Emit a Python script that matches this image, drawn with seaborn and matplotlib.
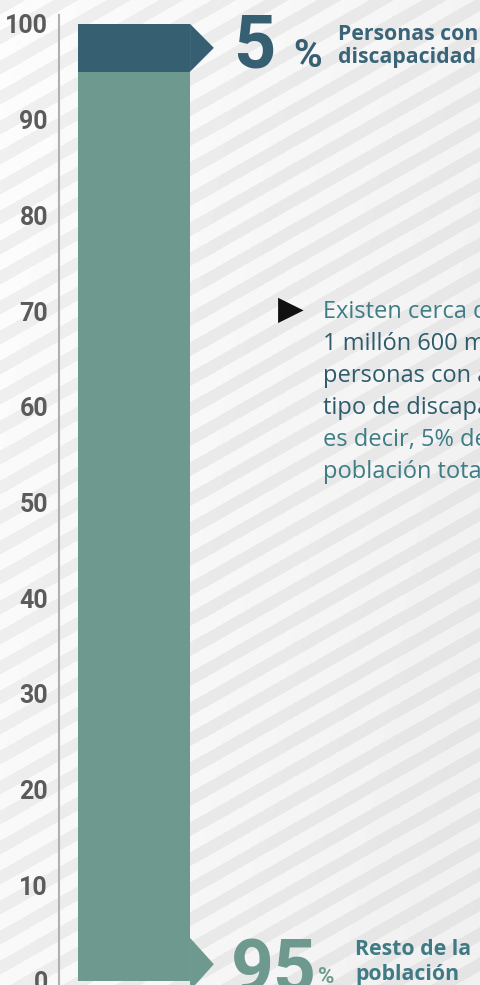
import numpy as np
import pandas as pd
import matplotlib.pyplot as plt
import seaborn as sns

# Data
categories = ["Población"]
rest_share = [95]          # resto de la población (%)
disability_share = [5]     # personas con discapacidad (%)
y_ticks = [0, 10, 20, 30, 40, 50, 60, 70, 80, 90, 100]
note_lines = ["Existen cerca de", "1 millón 600 mil", "personas con algún",
              "tipo de discapacidad,", "es decir, 5% de la", "población total"]

dark = "#375F72"
green = "#6D998E"
W, H = 481, 985

sns.set_style("white")
plt.rcParams['font.family'] = ['Open Sans', 'DejaVu Sans']

fig = plt.figure(figsize=(W / 100, H / 100), dpi=100)

# Striped background
bg = fig.add_axes([0, 0, 1, 1], zorder=0)
yy, xx = np.mgrid[0:H, 0:W]
band = ((yy + xx * 0.57) % 30) < 14
base = 0.99 - 0.035 * (xx / W) - 0.012 * (yy / H)
img = np.where(band, base - 0.05, base)
bg.imshow(img, cmap="gray", vmin=0, vmax=1, aspect="auto", interpolation="bilinear")
bg.axis("off")

# Main chart
ax = fig.add_axes([59 / W, 0, 1 - 59 / W, 1], zorder=1)
ax.set_facecolor("none")

df = pd.DataFrame({"cat": categories,
                   "total": np.add(rest_share, disability_share),
                   "rest": rest_share})
sns.barplot(data=df, x="cat", y="total", color=dark, saturation=1, width=0.8,
            linewidth=0, ax=ax)
sns.barplot(data=df, x="cat", y="rest", color=green, saturation=1, width=0.8,
            linewidth=0, ax=ax)

ax.set_xlim(-0.536, 2.478)
ax.set_ylim(-0.42, 102.5)

# arrow notches on the right side of the bar
bar = ax.patches[0]
right = bar.get_x() + bar.get_width()
tip = 0.17
top = df["total"][0]
ax.fill([right, right + tip, right], [top, top - disability_share[0] / 2, rest_share[0]],
        color=dark, lw=0)
ax.fill([right, right + tip, right], [4.5, 1.75, -1], color=green, lw=0, clip_on=False)

ax.set_xlabel("")
ax.set_ylabel("")
ax.set_xticks([])
ax.set_yticks(y_ticks)
ax.set_yticklabels([str(t) for t in y_ticks], fontsize=18, fontweight="bold",
                   color="#5B5B5B", family="Roboto")
ax.tick_params(axis="y", length=0, pad=8)
for s in ["top", "right", "bottom"]:
    ax.spines[s].set_visible(False)
ax.spines["left"].set_color("#B0B0B0")
ax.spines["left"].set_linewidth(1.5)
ax.spines["left"].set_bounds(-1, 100.9)


def px(x, y):
    return x / W, 1 - y / H


# Top annotation
fig.text(*px(233, 68), f"{disability_share[0]}", family="Roboto", fontweight="bold",
         fontsize=53, color=dark, va="baseline", zorder=3)
fig.text(*px(293, 67), "%", family="Roboto", fontweight="bold",
         fontsize=28, color=dark, va="baseline", zorder=3)
fig.text(*px(338, 40), "Personas con", fontweight="bold", fontsize=15.3,
         color="#3A6578", va="baseline", zorder=3)
fig.text(*px(338, 63), "discapacidad", fontweight="bold", fontsize=15.3,
         color="#3A6578", va="baseline", zorder=3)

# Bottom annotation
fig.text(*px(231, 993), f"{rest_share[0]}", family="Roboto", fontweight="bold",
         fontsize=54, color=green, va="baseline", zorder=3)
fig.text(*px(318, 983), "%", family="Roboto", fontweight="bold",
         fontsize=16, color=green, va="baseline", zorder=3)
fig.text(*px(355, 955), "Resto de la", fontweight="bold", fontsize=15.3,
         color="#3F7A85", va="baseline", zorder=3)
fig.text(*px(355, 980), "población", fontweight="bold", fontsize=15.3,
         color="#3F7A85", va="baseline", zorder=3)

# Note with bullet
fig.text(*px(278, 309), "\u25B6", family="DejaVu Sans", fontsize=24,
         color="#111111", va="center", zorder=3)
line_colors = ["#3E7C86", "#2D5B6C", "#2D5B6C", "#2D5B6C", "#3E7C86", "#3E7C86"]
for i, (line, c) in enumerate(zip(note_lines, line_colors)):
    fig.text(*px(323, 318 + 32 * i), line, fontsize=17, color=c,
             va="baseline", zorder=3)

fig.savefig("out.png", dpi=100)
